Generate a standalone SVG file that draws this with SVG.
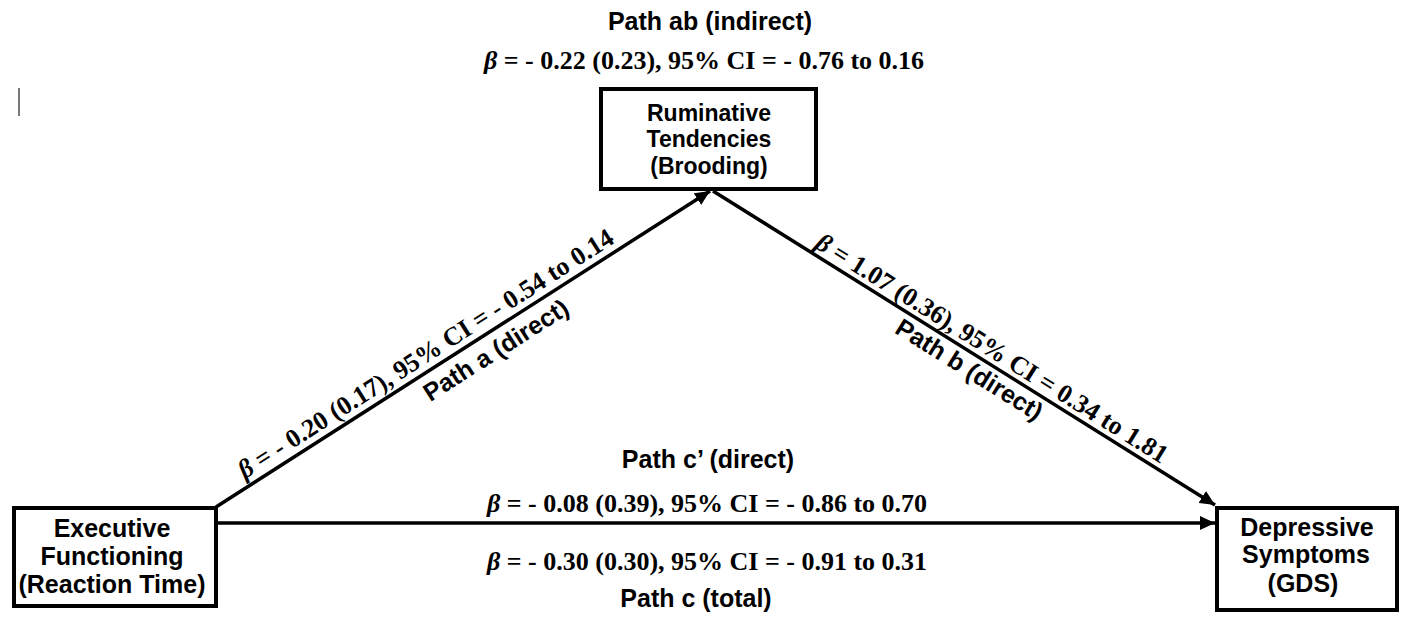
<svg xmlns="http://www.w3.org/2000/svg" width="1405" height="620" viewBox="0 0 1405 620">
<style>
.box{fill:#fff;stroke:#000;stroke-width:4}
.nt{font-family:"Liberation Sans",Arial,sans-serif;font-weight:bold;fill:#000;text-anchor:middle}
.pl{font-family:"Liberation Sans",Arial,sans-serif;font-weight:bold;font-size:25px;fill:#000;text-anchor:middle}
.bl{font-family:"Liberation Serif","Times New Roman",serif;font-weight:bold;font-size:26px;fill:#000;text-anchor:middle}
.b{font-style:italic}
.conn{stroke:#000;stroke-width:3.5;fill:none}
</style>
<defs>
<marker id="arr" markerUnits="userSpaceOnUse" markerWidth="16" markerHeight="14" refX="15" refY="7" orient="auto">
<path d="M0,0 L15,7 L0,14 z" fill="#000"/>
</marker>
</defs>
<rect width="1405" height="620" fill="#fff"/>
<line x1="19" y1="88" x2="19" y2="116" stroke="#777" stroke-width="2"/>

<g id="connectors">
<line class="conn" x1="216" y1="507" x2="710" y2="191" marker-end="url(#arr)"/>
<line class="conn" x1="713" y1="191" x2="1215" y2="505" marker-end="url(#arr)"/>
<line class="conn" x1="218" y1="523" x2="1215" y2="523" marker-end="url(#arr)"/>
</g>

<g id="labels">
<text class="pl" x="710" y="30">Path ab (indirect)</text>
<text class="bl" x="704" y="69"><tspan class="b">β</tspan> = - 0.22 (0.23), 95% CI = - 0.76 to 0.16</text>
<text class="pl" x="708" y="468">Path c’ (direct)</text>
<text class="bl" x="707" y="512"><tspan class="b">β</tspan> = - 0.08 (0.39), 95% CI = - 0.86 to 0.70</text>
<text class="bl" x="707" y="570"><tspan class="b">β</tspan> = - 0.30 (0.30), 95% CI = - 0.91 to 0.31</text>
<text class="pl" x="696" y="607">Path c (total)</text>
<g transform="translate(218,506) rotate(-32.6)">
<text class="bl" font-size="27" x="257" y="-8"><tspan class="b">β</tspan> = - 0.20 (0.17), 95% CI = - 0.54 to 0.14</text>
<text class="pl" x="318" y="27">Path a (direct)</text>
</g>
<g transform="translate(713,191) rotate(32)">
<text class="bl" x="320" y="-6"><tspan class="b">β</tspan> = 1.07 (0.36), 95% CI = 0.34 to 1.81</text>
<text class="pl" x="312" y="24">Path b (direct)</text>
</g>
</g>

<g id="node-rumination">
<rect class="box" x="601" y="89" width="215" height="100"/>
<text class="nt" font-size="23" x="709" y="121">Ruminative</text>
<text class="nt" font-size="23" x="709" y="147">Tendencies</text>
<text class="nt" font-size="23" x="709" y="174">(Brooding)</text>
</g>

<g id="node-executive">
<rect class="box" x="14" y="508" width="202" height="98"/>
<text class="nt" font-size="25" x="112" y="537">Executive</text>
<text class="nt" font-size="25" x="112" y="565">Functioning</text>
<text class="nt" font-size="25" x="112" y="593">(Reaction Time)</text>
</g>

<g id="node-depressive">
<rect class="box" x="1217" y="508" width="180" height="102"/>
<text class="nt" font-size="25" x="1307" y="536">Depressive</text>
<text class="nt" font-size="25" x="1306" y="563">Symptoms</text>
<text class="nt" font-size="25" x="1303" y="592">(GDS)</text>
</g>
</svg>
